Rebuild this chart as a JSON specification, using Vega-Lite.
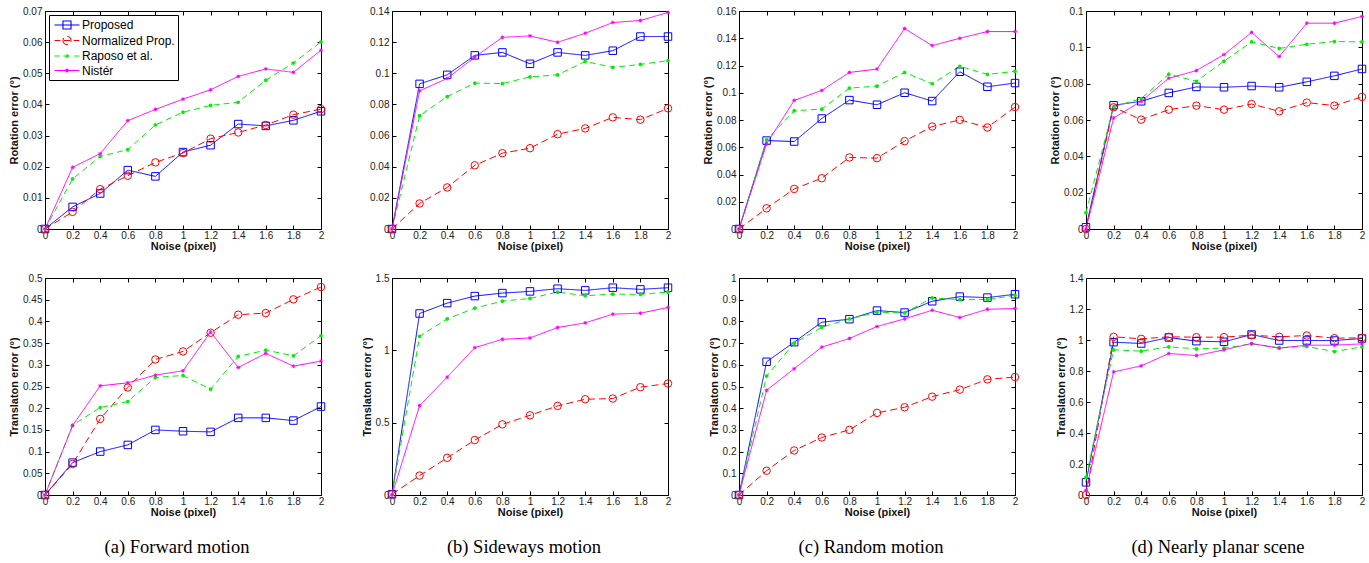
{
"$schema": "https://vega.github.io/schema/vega-lite/v6.json",
"padding": {"left": 8, "top": 5, "right": 5, "bottom": 5},
"background": "#ffffff",
"datasets": {
"a1": [
{"noise":0,"Proposed":0,"Normalized":0,"Raposo":0,"Nister":0},
{"noise":0.2,"Proposed":0.0071,"Normalized":0.0055,"Raposo":0.0161,"Nister":0.0198},
{"noise":0.4,"Proposed":0.0114,"Normalized":0.0128,"Raposo":0.0233,"Nister":0.0242},
{"noise":0.6,"Proposed":0.0189,"Normalized":0.0171,"Raposo":0.0255,"Nister":0.0348},
{"noise":0.8,"Proposed":0.0169,"Normalized":0.0214,"Raposo":0.0334,"Nister":0.0384},
{"noise":1.0,"Proposed":0.0247,"Normalized":0.0244,"Raposo":0.0375,"Nister":0.0417},
{"noise":1.2,"Proposed":0.0269,"Normalized":0.029,"Raposo":0.0397,"Nister":0.0447},
{"noise":1.4,"Proposed":0.0337,"Normalized":0.031,"Raposo":0.0407,"Nister":0.049},
{"noise":1.6,"Proposed":0.0331,"Normalized":0.0334,"Raposo":0.0478,"Nister":0.0514},
{"noise":1.8,"Proposed":0.0349,"Normalized":0.0367,"Raposo":0.0533,"Nister":0.0503},
{"noise":2.0,"Proposed":0.0378,"Normalized":0.0385,"Raposo":0.0601,"Nister":0.0574}
],
"b1": [
{"noise":0,"Proposed":0,"Normalized":0,"Raposo":0,"Nister":0},
{"noise":0.2,"Proposed":0.0932,"Normalized":0.0164,"Raposo":0.0728,"Nister":0.0887},
{"noise":0.4,"Proposed":0.099,"Normalized":0.0267,"Raposo":0.085,"Nister":0.0967},
{"noise":0.6,"Proposed":0.1115,"Normalized":0.0409,"Raposo":0.0937,"Nister":0.1104},
{"noise":0.8,"Proposed":0.1134,"Normalized":0.0487,"Raposo":0.0934,"Nister":0.1231},
{"noise":1.0,"Proposed":0.1061,"Normalized":0.0519,"Raposo":0.0977,"Nister":0.124},
{"noise":1.2,"Proposed":0.1134,"Normalized":0.0609,"Raposo":0.099,"Nister":0.1199},
{"noise":1.4,"Proposed":0.1115,"Normalized":0.0646,"Raposo":0.1076,"Nister":0.1257},
{"noise":1.6,"Proposed":0.1145,"Normalized":0.0717,"Raposo":0.1038,"Nister":0.1326},
{"noise":1.8,"Proposed":0.1236,"Normalized":0.0702,"Raposo":0.1057,"Nister":0.1339},
{"noise":2.0,"Proposed":0.1236,"Normalized":0.0775,"Raposo":0.1081,"Nister":0.1391}
],
"c1": [
{"noise":0,"Proposed":0,"Normalized":0,"Raposo":0,"Nister":0},
{"noise":0.2,"Proposed":0.0649,"Normalized":0.0152,"Raposo":0.0654,"Nister":0.0625},
{"noise":0.4,"Proposed":0.0642,"Normalized":0.0294,"Raposo":0.0868,"Nister":0.0944},
{"noise":0.6,"Proposed":0.0811,"Normalized":0.0373,"Raposo":0.088,"Nister":0.1017},
{"noise":0.8,"Proposed":0.0946,"Normalized":0.0525,"Raposo":0.1034,"Nister":0.1149},
{"noise":1.0,"Proposed":0.0912,"Normalized":0.052,"Raposo":0.1049,"Nister":0.1174},
{"noise":1.2,"Proposed":0.1,"Normalized":0.0645,"Raposo":0.1149,"Nister":0.1471},
{"noise":1.4,"Proposed":0.0939,"Normalized":0.0752,"Raposo":0.1066,"Nister":0.1346},
{"noise":1.6,"Proposed":0.1154,"Normalized":0.0801,"Raposo":0.1194,"Nister":0.14},
{"noise":1.8,"Proposed":0.1044,"Normalized":0.0745,"Raposo":0.1135,"Nister":0.1449},
{"noise":2.0,"Proposed":0.1071,"Normalized":0.0895,"Raposo":0.1157,"Nister":0.1449}
],
"d1": [
{"noise":0,"Proposed":0.001,"Normalized":0,"Raposo":0.009,"Nister":0},
{"noise":0.2,"Proposed":0.0681,"Normalized":0.067,"Raposo":0.0673,"Nister":0.0611},
{"noise":0.4,"Proposed":0.0703,"Normalized":0.0602,"Raposo":0.0718,"Nister":0.0703},
{"noise":0.6,"Proposed":0.0749,"Normalized":0.0657,"Raposo":0.0852,"Nister":0.083},
{"noise":0.8,"Proposed":0.0782,"Normalized":0.0679,"Raposo":0.0813,"Nister":0.0872},
{"noise":1.0,"Proposed":0.078,"Normalized":0.0657,"Raposo":0.0924,"Nister":0.096},
{"noise":1.2,"Proposed":0.0787,"Normalized":0.0688,"Raposo":0.103,"Nister":0.1082},
{"noise":1.4,"Proposed":0.078,"Normalized":0.0648,"Raposo":0.0994,"Nister":0.0949},
{"noise":1.6,"Proposed":0.081,"Normalized":0.0696,"Raposo":0.1017,"Nister":0.1133},
{"noise":1.8,"Proposed":0.0843,"Normalized":0.0679,"Raposo":0.1032,"Nister":0.1133},
{"noise":2.0,"Proposed":0.0881,"Normalized":0.0727,"Raposo":0.103,"Nister":0.117}
],
"a2": [
{"noise":0,"Proposed":0,"Normalized":0,"Raposo":0,"Nister":0},
{"noise":0.2,"Proposed":0.0746,"Normalized":0.0715,"Raposo":0.1608,"Nister":0.16},
{"noise":0.4,"Proposed":0.1,"Normalized":0.1754,"Raposo":0.2015,"Nister":0.2515},
{"noise":0.6,"Proposed":0.1154,"Normalized":0.2477,"Raposo":0.2154,"Nister":0.2585},
{"noise":0.8,"Proposed":0.15,"Normalized":0.3123,"Raposo":0.2708,"Nister":0.2762},
{"noise":1.0,"Proposed":0.1469,"Normalized":0.3308,"Raposo":0.2754,"Nister":0.2862},
{"noise":1.2,"Proposed":0.1454,"Normalized":0.3738,"Raposo":0.2438,"Nister":0.3754},
{"noise":1.4,"Proposed":0.1777,"Normalized":0.4154,"Raposo":0.3192,"Nister":0.2938},
{"noise":1.6,"Proposed":0.1777,"Normalized":0.4192,"Raposo":0.3338,"Nister":0.3262},
{"noise":1.8,"Proposed":0.1715,"Normalized":0.4508,"Raposo":0.3208,"Nister":0.2969},
{"noise":2.0,"Proposed":0.2038,"Normalized":0.4792,"Raposo":0.3669,"Nister":0.3085}
],
"b2": [
{"noise":0,"Proposed":0.005,"Normalized":0.005,"Raposo":0,"Nister":0},
{"noise":0.2,"Proposed":1.2546,"Normalized":0.1343,"Raposo":1.0972,"Nister":0.618},
{"noise":0.4,"Proposed":1.3264,"Normalized":0.257,"Raposo":1.2176,"Nister":0.8148},
{"noise":0.6,"Proposed":1.375,"Normalized":0.3796,"Raposo":1.2917,"Nister":1.0185},
{"noise":0.8,"Proposed":1.3958,"Normalized":0.4884,"Raposo":1.3403,"Nister":1.0764},
{"noise":1.0,"Proposed":1.4074,"Normalized":0.5509,"Raposo":1.3588,"Nister":1.0856},
{"noise":1.2,"Proposed":1.4259,"Normalized":0.6157,"Raposo":1.4028,"Nister":1.1574},
{"noise":1.4,"Proposed":1.4144,"Normalized":0.662,"Raposo":1.3773,"Nister":1.1898},
{"noise":1.6,"Proposed":1.4329,"Normalized":0.6667,"Raposo":1.3889,"Nister":1.25},
{"noise":1.8,"Proposed":1.4213,"Normalized":0.7454,"Raposo":1.3866,"Nister":1.2569},
{"noise":2.0,"Proposed":1.4329,"Normalized":0.7708,"Raposo":1.4028,"Nister":1.2963}
],
"c2": [
{"noise":0,"Proposed":0,"Normalized":0,"Raposo":0,"Nister":0},
{"noise":0.2,"Proposed":0.614,"Normalized":0.1118,"Raposo":0.5482,"Nister":0.4824},
{"noise":0.4,"Proposed":0.7044,"Normalized":0.2052,"Raposo":0.6998,"Nister":0.5819},
{"noise":0.6,"Proposed":0.7963,"Normalized":0.2649,"Raposo":0.7733,"Nister":0.6815},
{"noise":0.8,"Proposed":0.8101,"Normalized":0.3001,"Raposo":0.8116,"Nister":0.7213},
{"noise":1.0,"Proposed":0.8499,"Normalized":0.3783,"Raposo":0.8423,"Nister":0.7764},
{"noise":1.2,"Proposed":0.8407,"Normalized":0.4043,"Raposo":0.8392,"Nister":0.8116},
{"noise":1.4,"Proposed":0.8928,"Normalized":0.4533,"Raposo":0.9081,"Nister":0.8515},
{"noise":1.6,"Proposed":0.9142,"Normalized":0.4855,"Raposo":0.9005,"Nister":0.8178},
{"noise":1.8,"Proposed":0.9096,"Normalized":0.5329,"Raposo":0.9005,"Nister":0.856},
{"noise":2.0,"Proposed":0.925,"Normalized":0.5436,"Raposo":0.9204,"Nister":0.8591}
],
"d2": [
{"noise":0,"Proposed":0.0818,"Normalized":0,"Raposo":0.114,"Nister":0.03},
{"noise":0.2,"Proposed":0.986,"Normalized":1.0205,"Raposo":0.9365,"Nister":0.7944},
{"noise":0.4,"Proposed":0.9774,"Normalized":1.0075,"Raposo":0.9279,"Nister":0.8331},
{"noise":0.6,"Proposed":1.0161,"Normalized":1.0205,"Raposo":0.9559,"Nister":0.9128},
{"noise":0.8,"Proposed":0.9925,"Normalized":1.0183,"Raposo":0.943,"Nister":0.8999},
{"noise":1.0,"Proposed":0.9882,"Normalized":1.0183,"Raposo":0.9473,"Nister":0.9365},
{"noise":1.2,"Proposed":1.0355,"Normalized":1.0312,"Raposo":0.9752,"Nister":0.9774},
{"noise":1.4,"Proposed":0.9968,"Normalized":1.0205,"Raposo":0.9494,"Nister":0.9473},
{"noise":1.6,"Proposed":0.9968,"Normalized":1.029,"Raposo":0.958,"Nister":0.9666},
{"noise":1.8,"Proposed":0.9968,"Normalized":1.0118,"Raposo":0.9257,"Nister":0.9666},
{"noise":2.0,"Proposed":1.0097,"Normalized":1.014,"Raposo":0.9559,"Nister":0.9752}
]
},
"columns": 4,
"spacing": {"row": 49, "column": 71},
"bounds": "flush",
"resolve": {"scale": {"color": "independent", "strokeDash": "independent"}, "legend": {"color": "independent"}},
"concat": [
{
"width": 276, "height": 218,
"data": {"name": "a1"},
"transform": [{"fold": ["Proposed","Normalized","Raposo","Nister"], "as": ["method","error"]}],
"resolve": {"axis": {"x": "independent", "y": "independent"}},
"encoding": {
"x": {"field":"noise","type":"quantitative","scale":{"domain":[0,2],"nice":false,"zero":false},"axis":{"orient":"bottom","values":[0,0.2,0.4,0.6,0.8,1,1.2,1.4,1.6,1.8,2],"format":"~g","title":"Noise (pixel)"}},
"y": {"field":"error","type":"quantitative","scale":{"domain":[0,0.07],"nice":false},"axis":{"orient":"left","values":[0,0.01,0.02,0.03,0.04,0.05,0.06,0.07],"format":"~g","title":"Rotation error (°)"}},
"color": {"field":"method","type":"nominal","scale":{"domain":["Proposed","Normalized","Raposo","Nister"],"range":["#0000ff","#ff0000","#00ee00","#ff00ff"]},
 "legend": {"orient":"top-left","offset":4,"title":null,"strokeColor":"#000","fillColor":"#fff","padding":3,"cornerRadius":0,"labelFont":"Liberation Sans","labelFontSize":12,"labelColor":"#000","rowPadding":1.5,"symbolSize":144,"symbolStrokeWidth":1.1,"symbolOffset":8,"labelOffset":8,"symbolFillColor":"transparent",
  "labelExpr":"datum.label == 'Normalized' ? 'Normalized Prop.' : datum.label == 'Raposo' ? 'Raposo et al.' : datum.label == 'Nister' ? 'Nistér' : datum.label",
  "encode":{"symbols":{"update":{"fill":{"value":"transparent"},"fillOpacity":{"value":0},"strokeDash":{"value":[1,0]},"shape":{"signal":"datum.value === 'Proposed' ? 'M-2.08,0H2.08M-0.67,-0.67H0.67V0.67H-0.67Z' : datum.value === 'Normalized' ? 'M-2.08,0H-1.1M-0.5,0H0.5M1.1,0H2.08M-0.67,0A0.67,0.67 0 1,0 0.67,0A0.67,0.67 0 1,0 -0.67,0Z' : datum.value === 'Raposo' ? 'M-2.08,0H-1.2M-0.6,0H0.6M1.2,0H2.08M-0.2,0A0.2,0.2 0 1,0 0.2,0A0.2,0.2 0 1,0 -0.2,0Z' : 'M-2.08,0H2.08M-0.33,0H0.33M0,-0.33V0.33M-0.23,-0.23L0.23,0.23M-0.23,0.23L0.23,-0.23'"}}}}}}
},
"layer": [
{"mark": {"type":"line","strokeWidth":1},"encoding":{"strokeDash":{"field":"method","type":"nominal","scale":{"domain":["Proposed","Normalized","Raposo","Nister"],"range":[[1,0],[7,4],[6,4],[1,0]]},"legend":null}}},
{"transform":[{"filter":"datum.method === 'Proposed'"}],"mark":{"type":"point","shape":"square","size":56,"filled":false,"strokeWidth":1,"opacity":1},"encoding":{
"x": {"field":"noise","type":"quantitative","axis":{"orient":"top","labels":false,"title":null,"values":[0,0.2,0.4,0.6,0.8,1,1.2,1.4,1.6,1.8,2]}},
"y": {"field":"error","type":"quantitative","axis":{"orient":"right","labels":false,"title":null,"values":[0,0.01,0.02,0.03,0.04,0.05,0.06,0.07]}}}},
{"transform":[{"filter":"datum.method === 'Normalized'"}],"mark":{"type":"point","shape":"circle","size":56,"filled":false,"strokeWidth":1,"opacity":1},"encoding":{"x":{"field":"noise","type":"quantitative","axis":null},"y":{"field":"error","type":"quantitative","axis":null}}},
{"transform":[{"filter":"datum.method === 'Raposo'"}],"mark":{"type":"point","shape":"circle","size":3,"filled":false,"strokeWidth":2,"opacity":1},"encoding":{"x":{"field":"noise","type":"quantitative","axis":null},"y":{"field":"error","type":"quantitative","axis":null}}},
{"transform":[{"filter":"datum.method === 'Nister'"}],"mark":{"type":"point","shape":"M-1,0H1M0,-1V1M-0.7,-0.7L0.7,0.7M-0.7,0.7L0.7,-0.7","size":14,"filled":false,"strokeWidth":1,"opacity":1},"encoding":{"x":{"field":"noise","type":"quantitative","axis":null},"y":{"field":"error","type":"quantitative","axis":null}}}
]
},
{
"width": 276, "height": 218,
"data": {"name": "b1"},
"transform": [{"fold": ["Proposed","Normalized","Raposo","Nister"], "as": ["method","error"]}],
"resolve": {"axis": {"x": "independent", "y": "independent"}},
"encoding": {
"x": {"field":"noise","type":"quantitative","scale":{"domain":[0,2],"nice":false,"zero":false},"axis":{"orient":"bottom","values":[0,0.2,0.4,0.6,0.8,1,1.2,1.4,1.6,1.8,2],"format":"~g","title":"Noise (pixel)"}},
"y": {"field":"error","type":"quantitative","scale":{"domain":[0,0.14],"nice":false},"axis":{"orient":"left","values":[0,0.02,0.04,0.06,0.08,0.1,0.12,0.14],"format":"~g","title":null}},
"color": {"field":"method","type":"nominal","scale":{"domain":["Proposed","Normalized","Raposo","Nister"],"range":["#0000ff","#ff0000","#00ee00","#ff00ff"]},"legend":null}
},
"layer": [
{"mark": {"type":"line","strokeWidth":1},"encoding":{"strokeDash":{"field":"method","type":"nominal","scale":{"domain":["Proposed","Normalized","Raposo","Nister"],"range":[[1,0],[7,4],[6,4],[1,0]]},"legend":null}}},
{"transform":[{"filter":"datum.method === 'Proposed'"}],"mark":{"type":"point","shape":"square","size":56,"filled":false,"strokeWidth":1,"opacity":1},"encoding":{
"x": {"field":"noise","type":"quantitative","axis":{"orient":"top","labels":false,"title":null,"values":[0,0.2,0.4,0.6,0.8,1,1.2,1.4,1.6,1.8,2]}},
"y": {"field":"error","type":"quantitative","axis":{"orient":"right","labels":false,"title":null,"values":[0,0.02,0.04,0.06,0.08,0.1,0.12,0.14]}}}},
{"transform":[{"filter":"datum.method === 'Normalized'"}],"mark":{"type":"point","shape":"circle","size":56,"filled":false,"strokeWidth":1,"opacity":1},"encoding":{"x":{"field":"noise","type":"quantitative","axis":null},"y":{"field":"error","type":"quantitative","axis":null}}},
{"transform":[{"filter":"datum.method === 'Raposo'"}],"mark":{"type":"point","shape":"circle","size":3,"filled":false,"strokeWidth":2,"opacity":1},"encoding":{"x":{"field":"noise","type":"quantitative","axis":null},"y":{"field":"error","type":"quantitative","axis":null}}},
{"transform":[{"filter":"datum.method === 'Nister'"}],"mark":{"type":"point","shape":"M-1,0H1M0,-1V1M-0.7,-0.7L0.7,0.7M-0.7,0.7L0.7,-0.7","size":14,"filled":false,"strokeWidth":1,"opacity":1},"encoding":{"x":{"field":"noise","type":"quantitative","axis":null},"y":{"field":"error","type":"quantitative","axis":null}}}
]
},
{
"width": 276, "height": 218,
"data": {"name": "c1"},
"transform": [{"fold": ["Proposed","Normalized","Raposo","Nister"], "as": ["method","error"]}],
"resolve": {"axis": {"x": "independent", "y": "independent"}},
"encoding": {
"x": {"field":"noise","type":"quantitative","scale":{"domain":[0,2],"nice":false,"zero":false},"axis":{"orient":"bottom","values":[0,0.2,0.4,0.6,0.8,1,1.2,1.4,1.6,1.8,2],"format":"~g","title":"Noise (pixel)"}},
"y": {"field":"error","type":"quantitative","scale":{"domain":[0,0.16],"nice":false},"axis":{"orient":"left","values":[0,0.02,0.04,0.06,0.08,0.1,0.12,0.14,0.16],"format":"~g","title":"Rotation error (°)"}},
"color": {"field":"method","type":"nominal","scale":{"domain":["Proposed","Normalized","Raposo","Nister"],"range":["#0000ff","#ff0000","#00ee00","#ff00ff"]},"legend":null}
},
"layer": [
{"mark": {"type":"line","strokeWidth":1},"encoding":{"strokeDash":{"field":"method","type":"nominal","scale":{"domain":["Proposed","Normalized","Raposo","Nister"],"range":[[1,0],[7,4],[6,4],[1,0]]},"legend":null}}},
{"transform":[{"filter":"datum.method === 'Proposed'"}],"mark":{"type":"point","shape":"square","size":56,"filled":false,"strokeWidth":1,"opacity":1},"encoding":{
"x": {"field":"noise","type":"quantitative","axis":{"orient":"top","labels":false,"title":null,"values":[0,0.2,0.4,0.6,0.8,1,1.2,1.4,1.6,1.8,2]}},
"y": {"field":"error","type":"quantitative","axis":{"orient":"right","labels":false,"title":null,"values":[0,0.02,0.04,0.06,0.08,0.1,0.12,0.14,0.16]}}}},
{"transform":[{"filter":"datum.method === 'Normalized'"}],"mark":{"type":"point","shape":"circle","size":56,"filled":false,"strokeWidth":1,"opacity":1},"encoding":{"x":{"field":"noise","type":"quantitative","axis":null},"y":{"field":"error","type":"quantitative","axis":null}}},
{"transform":[{"filter":"datum.method === 'Raposo'"}],"mark":{"type":"point","shape":"circle","size":3,"filled":false,"strokeWidth":2,"opacity":1},"encoding":{"x":{"field":"noise","type":"quantitative","axis":null},"y":{"field":"error","type":"quantitative","axis":null}}},
{"transform":[{"filter":"datum.method === 'Nister'"}],"mark":{"type":"point","shape":"M-1,0H1M0,-1V1M-0.7,-0.7L0.7,0.7M-0.7,0.7L0.7,-0.7","size":14,"filled":false,"strokeWidth":1,"opacity":1},"encoding":{"x":{"field":"noise","type":"quantitative","axis":null},"y":{"field":"error","type":"quantitative","axis":null}}}
]
},
{
"width": 276, "height": 218,
"data": {"name": "d1"},
"transform": [{"fold": ["Proposed","Normalized","Raposo","Nister"], "as": ["method","error"]}],
"resolve": {"axis": {"x": "independent", "y": "independent"}},
"encoding": {
"x": {"field":"noise","type":"quantitative","scale":{"domain":[0,2],"nice":false,"zero":false},"axis":{"orient":"bottom","values":[0,0.2,0.4,0.6,0.8,1,1.2,1.4,1.6,1.8,2],"format":"~g","title":"Noise (pixel)"}},
"y": {"field":"error","type":"quantitative","scale":{"domain":[0,0.12],"nice":false},"axis":{"orient":"left","values":[0,0.02,0.04,0.06,0.08,0.1,0.12],"format":"~g","title":"Rotation error (°)"}},
"color": {"field":"method","type":"nominal","scale":{"domain":["Proposed","Normalized","Raposo","Nister"],"range":["#0000ff","#ff0000","#00ee00","#ff00ff"]},"legend":null}
},
"layer": [
{"mark": {"type":"line","strokeWidth":1},"encoding":{"strokeDash":{"field":"method","type":"nominal","scale":{"domain":["Proposed","Normalized","Raposo","Nister"],"range":[[1,0],[7,4],[6,4],[1,0]]},"legend":null}}},
{"transform":[{"filter":"datum.method === 'Proposed'"}],"mark":{"type":"point","shape":"square","size":56,"filled":false,"strokeWidth":1,"opacity":1},"encoding":{
"x": {"field":"noise","type":"quantitative","axis":{"orient":"top","labels":false,"title":null,"values":[0,0.2,0.4,0.6,0.8,1,1.2,1.4,1.6,1.8,2]}},
"y": {"field":"error","type":"quantitative","axis":{"orient":"right","labels":false,"title":null,"values":[0,0.02,0.04,0.06,0.08,0.1,0.12]}}}},
{"transform":[{"filter":"datum.method === 'Normalized'"}],"mark":{"type":"point","shape":"circle","size":56,"filled":false,"strokeWidth":1,"opacity":1},"encoding":{"x":{"field":"noise","type":"quantitative","axis":null},"y":{"field":"error","type":"quantitative","axis":null}}},
{"transform":[{"filter":"datum.method === 'Raposo'"}],"mark":{"type":"point","shape":"circle","size":3,"filled":false,"strokeWidth":2,"opacity":1},"encoding":{"x":{"field":"noise","type":"quantitative","axis":null},"y":{"field":"error","type":"quantitative","axis":null}}},
{"transform":[{"filter":"datum.method === 'Nister'"}],"mark":{"type":"point","shape":"M-1,0H1M0,-1V1M-0.7,-0.7L0.7,0.7M-0.7,0.7L0.7,-0.7","size":14,"filled":false,"strokeWidth":1,"opacity":1},"encoding":{"x":{"field":"noise","type":"quantitative","axis":null},"y":{"field":"error","type":"quantitative","axis":null}}}
]
},
{
"width": 276, "height": 217,
"title": {"text": "(a) Forward motion", "dx": -6},
"data": {"name": "a2"},
"transform": [{"fold": ["Proposed","Normalized","Raposo","Nister"], "as": ["method","error"]}],
"resolve": {"axis": {"x": "independent", "y": "independent"}},
"encoding": {
"x": {"field":"noise","type":"quantitative","scale":{"domain":[0,2],"nice":false,"zero":false},"axis":{"orient":"bottom","values":[0,0.2,0.4,0.6,0.8,1,1.2,1.4,1.6,1.8,2],"format":"~g","title":"Noise (pixel)"}},
"y": {"field":"error","type":"quantitative","scale":{"domain":[0,0.5],"nice":false},"axis":{"orient":"left","values":[0,0.05,0.1,0.15,0.2,0.25,0.3,0.35,0.4,0.45,0.5],"format":"~g","title":"Translaton error (°)"}},
"color": {"field":"method","type":"nominal","scale":{"domain":["Proposed","Normalized","Raposo","Nister"],"range":["#0000ff","#ff0000","#00ee00","#ff00ff"]},"legend":null}
},
"layer": [
{"mark": {"type":"line","strokeWidth":1},"encoding":{"strokeDash":{"field":"method","type":"nominal","scale":{"domain":["Proposed","Normalized","Raposo","Nister"],"range":[[1,0],[7,4],[6,4],[1,0]]},"legend":null}}},
{"transform":[{"filter":"datum.method === 'Proposed'"}],"mark":{"type":"point","shape":"square","size":56,"filled":false,"strokeWidth":1,"opacity":1},"encoding":{
"x": {"field":"noise","type":"quantitative","axis":{"orient":"top","labels":false,"title":null,"values":[0,0.2,0.4,0.6,0.8,1,1.2,1.4,1.6,1.8,2]}},
"y": {"field":"error","type":"quantitative","axis":{"orient":"right","labels":false,"title":null,"values":[0,0.05,0.1,0.15,0.2,0.25,0.3,0.35,0.4,0.45,0.5]}}}},
{"transform":[{"filter":"datum.method === 'Normalized'"}],"mark":{"type":"point","shape":"circle","size":56,"filled":false,"strokeWidth":1,"opacity":1},"encoding":{"x":{"field":"noise","type":"quantitative","axis":null},"y":{"field":"error","type":"quantitative","axis":null}}},
{"transform":[{"filter":"datum.method === 'Raposo'"}],"mark":{"type":"point","shape":"circle","size":3,"filled":false,"strokeWidth":2,"opacity":1},"encoding":{"x":{"field":"noise","type":"quantitative","axis":null},"y":{"field":"error","type":"quantitative","axis":null}}},
{"transform":[{"filter":"datum.method === 'Nister'"}],"mark":{"type":"point","shape":"M-1,0H1M0,-1V1M-0.7,-0.7L0.7,0.7M-0.7,0.7L0.7,-0.7","size":14,"filled":false,"strokeWidth":1,"opacity":1},"encoding":{"x":{"field":"noise","type":"quantitative","axis":null},"y":{"field":"error","type":"quantitative","axis":null}}}
]
},
{
"width": 276, "height": 217,
"title": {"text": "(b) Sideways motion", "dx": -6},
"data": {"name": "b2"},
"transform": [{"fold": ["Proposed","Normalized","Raposo","Nister"], "as": ["method","error"]}],
"resolve": {"axis": {"x": "independent", "y": "independent"}},
"encoding": {
"x": {"field":"noise","type":"quantitative","scale":{"domain":[0,2],"nice":false,"zero":false},"axis":{"orient":"bottom","values":[0,0.2,0.4,0.6,0.8,1,1.2,1.4,1.6,1.8,2],"format":"~g","title":"Noise (pixel)"}},
"y": {"field":"error","type":"quantitative","scale":{"domain":[0,1.5],"nice":false},"axis":{"orient":"left","values":[0,0.5,1,1.5],"format":"~g","title":"Translaton error (°)"}},
"color": {"field":"method","type":"nominal","scale":{"domain":["Proposed","Normalized","Raposo","Nister"],"range":["#0000ff","#ff0000","#00ee00","#ff00ff"]},"legend":null}
},
"layer": [
{"mark": {"type":"line","strokeWidth":1},"encoding":{"strokeDash":{"field":"method","type":"nominal","scale":{"domain":["Proposed","Normalized","Raposo","Nister"],"range":[[1,0],[7,4],[6,4],[1,0]]},"legend":null}}},
{"transform":[{"filter":"datum.method === 'Proposed'"}],"mark":{"type":"point","shape":"square","size":56,"filled":false,"strokeWidth":1,"opacity":1},"encoding":{
"x": {"field":"noise","type":"quantitative","axis":{"orient":"top","labels":false,"title":null,"values":[0,0.2,0.4,0.6,0.8,1,1.2,1.4,1.6,1.8,2]}},
"y": {"field":"error","type":"quantitative","axis":{"orient":"right","labels":false,"title":null,"values":[0,0.5,1,1.5]}}}},
{"transform":[{"filter":"datum.method === 'Normalized'"}],"mark":{"type":"point","shape":"circle","size":56,"filled":false,"strokeWidth":1,"opacity":1},"encoding":{"x":{"field":"noise","type":"quantitative","axis":null},"y":{"field":"error","type":"quantitative","axis":null}}},
{"transform":[{"filter":"datum.method === 'Raposo'"}],"mark":{"type":"point","shape":"circle","size":3,"filled":false,"strokeWidth":2,"opacity":1},"encoding":{"x":{"field":"noise","type":"quantitative","axis":null},"y":{"field":"error","type":"quantitative","axis":null}}},
{"transform":[{"filter":"datum.method === 'Nister'"}],"mark":{"type":"point","shape":"M-1,0H1M0,-1V1M-0.7,-0.7L0.7,0.7M-0.7,0.7L0.7,-0.7","size":14,"filled":false,"strokeWidth":1,"opacity":1},"encoding":{"x":{"field":"noise","type":"quantitative","axis":null},"y":{"field":"error","type":"quantitative","axis":null}}}
]
},
{
"width": 276, "height": 217,
"title": {"text": "(c) Random motion", "dx": -6},
"data": {"name": "c2"},
"transform": [{"fold": ["Proposed","Normalized","Raposo","Nister"], "as": ["method","error"]}],
"resolve": {"axis": {"x": "independent", "y": "independent"}},
"encoding": {
"x": {"field":"noise","type":"quantitative","scale":{"domain":[0,2],"nice":false,"zero":false},"axis":{"orient":"bottom","values":[0,0.2,0.4,0.6,0.8,1,1.2,1.4,1.6,1.8,2],"format":"~g","title":"Noise (pixel)"}},
"y": {"field":"error","type":"quantitative","scale":{"domain":[0,1],"nice":false},"axis":{"orient":"left","values":[0,0.1,0.2,0.3,0.4,0.5,0.6,0.7,0.8,0.9,1],"format":"~g","title":"Translaton error (°)"}},
"color": {"field":"method","type":"nominal","scale":{"domain":["Proposed","Normalized","Raposo","Nister"],"range":["#0000ff","#ff0000","#00ee00","#ff00ff"]},"legend":null}
},
"layer": [
{"mark": {"type":"line","strokeWidth":1},"encoding":{"strokeDash":{"field":"method","type":"nominal","scale":{"domain":["Proposed","Normalized","Raposo","Nister"],"range":[[1,0],[7,4],[6,4],[1,0]]},"legend":null}}},
{"transform":[{"filter":"datum.method === 'Proposed'"}],"mark":{"type":"point","shape":"square","size":56,"filled":false,"strokeWidth":1,"opacity":1},"encoding":{
"x": {"field":"noise","type":"quantitative","axis":{"orient":"top","labels":false,"title":null,"values":[0,0.2,0.4,0.6,0.8,1,1.2,1.4,1.6,1.8,2]}},
"y": {"field":"error","type":"quantitative","axis":{"orient":"right","labels":false,"title":null,"values":[0,0.1,0.2,0.3,0.4,0.5,0.6,0.7,0.8,0.9,1]}}}},
{"transform":[{"filter":"datum.method === 'Normalized'"}],"mark":{"type":"point","shape":"circle","size":56,"filled":false,"strokeWidth":1,"opacity":1},"encoding":{"x":{"field":"noise","type":"quantitative","axis":null},"y":{"field":"error","type":"quantitative","axis":null}}},
{"transform":[{"filter":"datum.method === 'Raposo'"}],"mark":{"type":"point","shape":"circle","size":3,"filled":false,"strokeWidth":2,"opacity":1},"encoding":{"x":{"field":"noise","type":"quantitative","axis":null},"y":{"field":"error","type":"quantitative","axis":null}}},
{"transform":[{"filter":"datum.method === 'Nister'"}],"mark":{"type":"point","shape":"M-1,0H1M0,-1V1M-0.7,-0.7L0.7,0.7M-0.7,0.7L0.7,-0.7","size":14,"filled":false,"strokeWidth":1,"opacity":1},"encoding":{"x":{"field":"noise","type":"quantitative","axis":null},"y":{"field":"error","type":"quantitative","axis":null}}}
]
},
{
"width": 276, "height": 217,
"title": {"text": "(d) Nearly planar scene", "dx": -6},
"data": {"name": "d2"},
"transform": [{"fold": ["Proposed","Normalized","Raposo","Nister"], "as": ["method","error"]}],
"resolve": {"axis": {"x": "independent", "y": "independent"}},
"encoding": {
"x": {"field":"noise","type":"quantitative","scale":{"domain":[0,2],"nice":false,"zero":false},"axis":{"orient":"bottom","values":[0,0.2,0.4,0.6,0.8,1,1.2,1.4,1.6,1.8,2],"format":"~g","title":"Noise (pixel)"}},
"y": {"field":"error","type":"quantitative","scale":{"domain":[0,1.4],"nice":false},"axis":{"orient":"left","values":[0,0.2,0.4,0.6,0.8,1,1.2,1.4],"format":"~g","title":"Translaton error (°)"}},
"color": {"field":"method","type":"nominal","scale":{"domain":["Proposed","Normalized","Raposo","Nister"],"range":["#0000ff","#ff0000","#00ee00","#ff00ff"]},"legend":null}
},
"layer": [
{"mark": {"type":"line","strokeWidth":1},"encoding":{"strokeDash":{"field":"method","type":"nominal","scale":{"domain":["Proposed","Normalized","Raposo","Nister"],"range":[[1,0],[7,4],[6,4],[1,0]]},"legend":null}}},
{"transform":[{"filter":"datum.method === 'Proposed'"}],"mark":{"type":"point","shape":"square","size":56,"filled":false,"strokeWidth":1,"opacity":1},"encoding":{
"x": {"field":"noise","type":"quantitative","axis":{"orient":"top","labels":false,"title":null,"values":[0,0.2,0.4,0.6,0.8,1,1.2,1.4,1.6,1.8,2]}},
"y": {"field":"error","type":"quantitative","axis":{"orient":"right","labels":false,"title":null,"values":[0,0.2,0.4,0.6,0.8,1,1.2,1.4]}}}},
{"transform":[{"filter":"datum.method === 'Normalized'"}],"mark":{"type":"point","shape":"circle","size":56,"filled":false,"strokeWidth":1,"opacity":1},"encoding":{"x":{"field":"noise","type":"quantitative","axis":null},"y":{"field":"error","type":"quantitative","axis":null}}},
{"transform":[{"filter":"datum.method === 'Raposo'"}],"mark":{"type":"point","shape":"circle","size":3,"filled":false,"strokeWidth":2,"opacity":1},"encoding":{"x":{"field":"noise","type":"quantitative","axis":null},"y":{"field":"error","type":"quantitative","axis":null}}},
{"transform":[{"filter":"datum.method === 'Nister'"}],"mark":{"type":"point","shape":"M-1,0H1M0,-1V1M-0.7,-0.7L0.7,0.7M-0.7,0.7L0.7,-0.7","size":14,"filled":false,"strokeWidth":1,"opacity":1},"encoding":{"x":{"field":"noise","type":"quantitative","axis":null},"y":{"field":"error","type":"quantitative","axis":null}}}
]
}
],
"config": {
"view": {"stroke": "#000000", "strokeWidth": 1},
"axis": {"grid": false, "domain": false, "ticks": true, "tickColor": "#000000", "tickSize": -4, "tickWidth": 1, "labelFlush": false, "labelOverlap": false, "labelFont": "Liberation Sans", "labelFontSize": 10, "labelColor": "#222222", "titleFont": "Liberation Sans", "titleFontSize": 11, "titleFontWeight": "bold", "titleColor": "#111111"},
"axisX": {"labelPadding": 5, "titlePadding": 0},
"axisY": {"labelPadding": 7, "titlePadding": 3},
"title": {"orient": "bottom", "anchor": "middle", "frame": "group", "font": "Liberation Serif", "fontSize": 18.5, "fontWeight": "normal", "color": "#000000", "offset": 21}
}
}
